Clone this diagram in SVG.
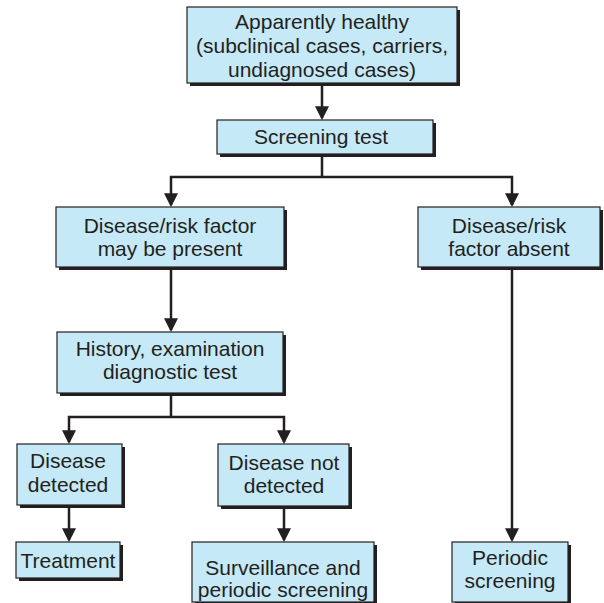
<svg xmlns="http://www.w3.org/2000/svg" width="604" height="603" viewBox="0 0 604 603">
<defs>
<marker id="ah" markerUnits="userSpaceOnUse" markerWidth="14" markerHeight="14" viewBox="0 0 13 13" refX="11" refY="6.5" orient="auto">
<path d="M0,0 L13,6.5 L0,13 z" fill="#231f20"/>
</marker>
</defs>
<style>
.sh{fill:#231f20}
.bx{fill:#c6e9f8;stroke:#231f20;stroke-width:1.2}
.t{font-family:"Liberation Sans",Arial,sans-serif;font-size:21px;fill:#231f20;text-anchor:middle}
.c{fill:none;stroke:#231f20;stroke-width:2.5}
.a{marker-end:url(#ah)}
</style>
<rect width="604" height="603" fill="#ffffff"/>
<g id="connectors">
<line class="c a" x1="322" y1="84" x2="322" y2="118"/>
<line class="c" x1="322" y1="155" x2="322" y2="177"/>
<polyline class="c a" points="322,177 171,177 171,205"/>
<polyline class="c a" points="322,177 512,177 512,205"/>
<line class="c a" x1="171" y1="268" x2="171" y2="330"/>
<line class="c" x1="171" y1="394" x2="171" y2="417"/>
<polyline class="c a" points="171,417 69,417 69,442"/>
<polyline class="c a" points="171,417 284,417 284,442"/>
<line class="c a" x1="69" y1="506" x2="69" y2="540"/>
<line class="c a" x1="284" y1="507" x2="284" y2="540"/>
<line class="c a" x1="512" y1="268" x2="512" y2="540"/>
</g>
<g id="n1">
<rect class="sh" x="190" y="10" width="270" height="76"/>
<rect class="bx" x="187" y="7" width="270" height="76"/>
<text class="t" x="322" y="29">Apparently healthy</text>
<text class="t" x="322" y="53">(subclinical cases, carriers,</text>
<text class="t" x="322" y="77">undiagnosed cases)</text>
</g>
<g id="n2">
<rect class="sh" x="220" y="123" width="216" height="34"/>
<rect class="bx" x="217" y="120" width="216" height="34"/>
<text class="t" x="321" y="144">Screening test</text>
</g>
<g id="n3">
<rect class="sh" x="59" y="210" width="228" height="60"/>
<rect class="bx" x="56" y="207" width="228" height="60"/>
<text class="t" x="170" y="232.5">Disease/risk factor</text>
<text class="t" x="170" y="256">may be present</text>
</g>
<g id="n4">
<rect class="sh" x="421" y="210" width="182" height="60"/>
<rect class="bx" x="418" y="207" width="182" height="60"/>
<text class="t" x="509" y="232.5">Disease/risk</text>
<text class="t" x="509" y="256">factor absent</text>
</g>
<g id="n5">
<rect class="sh" x="60" y="335" width="226" height="61"/>
<rect class="bx" x="57" y="332" width="226" height="61"/>
<text class="t" x="170" y="356">History, examination</text>
<text class="t" x="170" y="379">diagnostic test</text>
</g>
<g id="n6">
<rect class="sh" x="20" y="447" width="105" height="61"/>
<rect class="bx" x="17" y="444" width="105" height="61"/>
<text class="t" x="68" y="468">Disease</text>
<text class="t" x="68" y="492">detected</text>
</g>
<g id="n7">
<rect class="sh" x="221" y="447" width="131" height="62"/>
<rect class="bx" x="218" y="444" width="131" height="62"/>
<text class="t" x="284" y="470">Disease not</text>
<text class="t" x="284" y="493">detected</text>
</g>
<g id="n8">
<rect class="sh" x="19" y="545" width="104" height="36"/>
<rect class="bx" x="16" y="542" width="104" height="36"/>
<text class="t" x="68" y="568">Treatment</text>
</g>
<g id="n9">
<rect class="sh" x="195" y="545" width="182" height="60"/>
<rect class="bx" x="192" y="542" width="182" height="60"/>
<text class="t" x="283" y="575">Surveillance and</text>
<text class="t" x="283" y="597">periodic screening</text>
</g>
<g id="n10">
<rect class="sh" x="455" y="545" width="116" height="60"/>
<rect class="bx" x="452" y="542" width="116" height="60"/>
<text class="t" x="510" y="565">Periodic</text>
<text class="t" x="510" y="588">screening</text>
</g>
</svg>
